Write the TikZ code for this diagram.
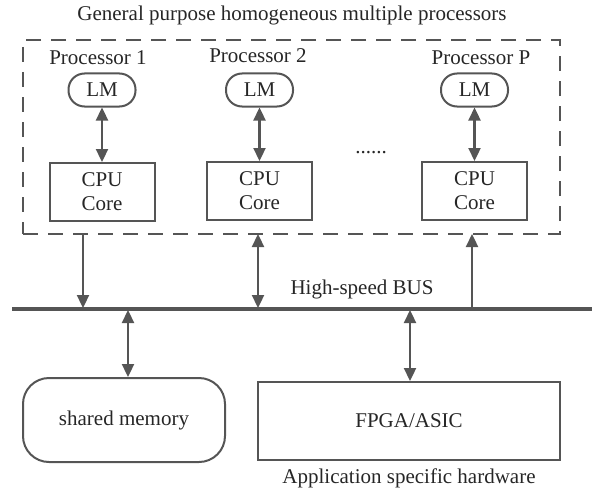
\documentclass[tikz,border=0pt]{standalone}
\usepackage{fontspec}
\setmainfont{Liberation Serif}
\usetikzlibrary{arrows.meta}
\definecolor{ln}{HTML}{555555}
\definecolor{tx}{HTML}{262626}
\begin{document}
\begin{tikzpicture}[x=0.5pt,y=-0.5pt,
  every node/.style={text=tx,font=\fontsize{10.5}{12}\selectfont,inner sep=0pt},
  lm/.style={draw=ln,line width=1pt,minimum width=33.5pt,minimum height=16.5pt,rounded corners=8pt},
  cpu/.style={draw=ln,line width=1pt,minimum width=52.5pt,minimum height=29pt,align=center},
  conn/.style={draw=ln,line width=1.15pt,-{Triangle[length=6.5pt,width=6pt]}},
  bconn/.style={draw=ln,line width=1.15pt,{Triangle[length=6.5pt,width=6pt]}-{Triangle[length=6.5pt,width=6pt]}},
  lbl/.style={}]
\useasboundingbox (0,0) rectangle (592,492);
\node[lbl] (title) at (292,15) {General purpose homogeneous multiple processors};
\node[draw=ln,line width=1.1pt,dash pattern=on 7.5pt off 5pt,minimum width=268.5pt,minimum height=97pt] (group) at (291.5,137) {};
\node[lbl] (p1) at (98,58) {Processor 1};
\node[lbl] (p2) at (258,56) {Processor 2};
\node[lbl] (pp) at (481,58) {Processor P};
\node[lm] (lm1) at (102,90) {LM};
\node[lm] (lm2) at (259.5,90) {LM};
\node[lm] (lmp) at (474.5,90) {LM};
\node[cpu] (c1) at (102,192) {CPU\\Core};
\node[cpu] (c2) at (259.5,191) {CPU\\Core};
\node[cpu] (cp) at (474.5,191) {CPU\\Core};
\node[lbl] (dots) at (371,153) {......};
\draw[bconn] (lm1) -- (c1);
\draw[bconn] (lm2) -- (c2);
\draw[bconn] (lmp) -- (cp);
\coordinate (busl) at (12,309);
\coordinate (busr) at (592,309);
\draw[draw=ln,line width=2pt] (busl) -- (busr);
\node[lbl] (buslbl) at (362,289) {High-speed BUS};
\coordinate (g1) at (83,234);
\coordinate (b1) at (83,308);
\coordinate (g2) at (258,234);
\coordinate (b2) at (258,308);
\coordinate (g3) at (472,234);
\coordinate (b3) at (472,309);
\draw[conn] (g1) -- (b1);
\draw[bconn] (g2) -- (b2);
\draw[conn] (b3) -- (g3);
\node[draw=ln,line width=1pt,rounded corners=13pt,minimum width=101pt,minimum height=42pt] (sm) at (124,420) {shared memory};
\node[draw=ln,line width=1pt,minimum width=151pt,minimum height=39pt] (fpga) at (409,421) {FPGA/ASIC};
\node[lbl] (app) at (409,478) {Application specific hardware};
\coordinate (b4) at (128,310);
\coordinate (b5) at (410,310);
\draw[bconn] (b4) -- (b4 |- sm.north);
\draw[bconn] (b5) -- (b5 |- fpga.north);
\end{tikzpicture}
\end{document}
